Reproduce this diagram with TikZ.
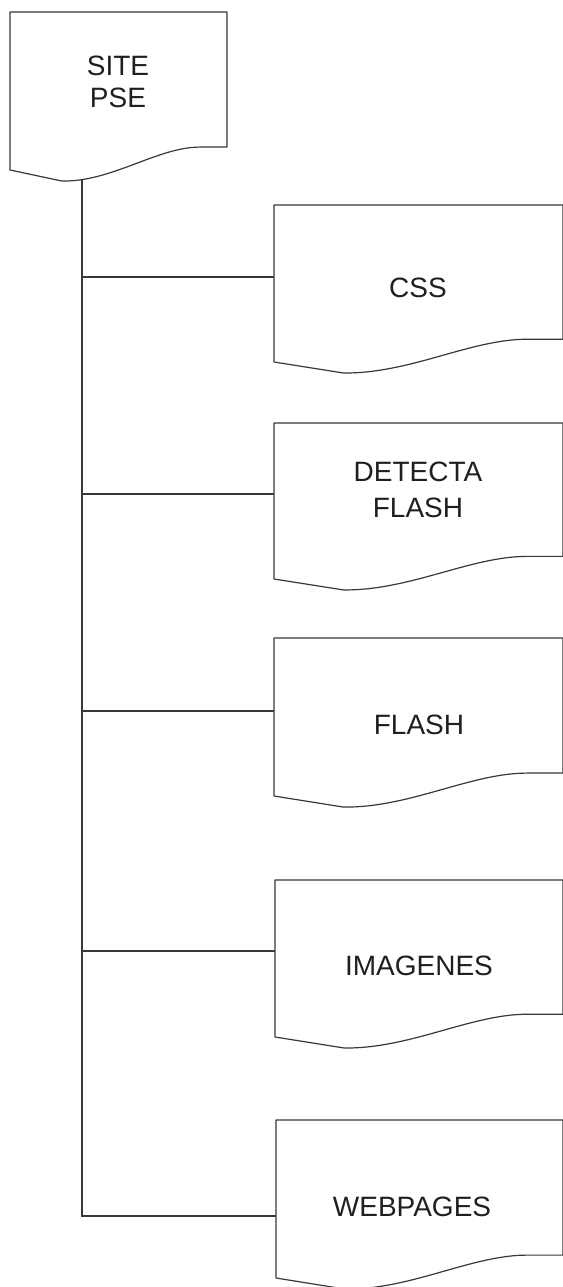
\documentclass[tikz,border=0pt]{standalone}
\usepackage{fontspec}
\setmainfont{Liberation Sans}
\begin{document}
\begin{tikzpicture}[x=1pt,y=-1pt,
  docline/.style={draw=black!78,line width=1.2pt,line join=round},
  conn/.style={draw=black!78,line width=1.2pt},
  lbl/.style={text=black!88,font=\fontsize{28}{32}\selectfont,align=center,inner sep=0pt}]
\newcommand\DocBox[4]{%
  \path[docline] (#1,#2) -- ({#1+#3},#2) -- ({#1+#3},{#2+0.855*#4})
    -- ({#1+0.875*#3},{#2+0.855*#4})
    .. controls ({#1+0.68*#3},{#2+0.855*#4}) and ({#1+0.47*#3},{#2+1.075*#4}) ..
    ({#1+0.24*#3},{#2+1.07*#4}) -- (#1,{#2+#4}) -- cycle;}
\useasboundingbox (0,0) rectangle (562,1287);
\DocBox{10}{12}{217}{158}
\DocBox{274}{205}{289}{157}
\DocBox{274}{423}{289}{156}
\DocBox{274}{638}{289}{158}
\DocBox{275}{880}{288}{157}
\DocBox{276}{1120}{287}{158}
\node[lbl] (site) at (118,82) {SITE\\PSE};
\node[lbl] (css) at (418,288) {CSS};
\node[lbl,font=\fontsize{28}{36}\selectfont] (detecta) at (418,490) {DETECTA\\FLASH};
\node[lbl] (flash) at (419,725) {FLASH};
\node[lbl] (imagenes) at (419,966) {IMAGENES};
\node[lbl] (webpages) at (412,1207) {WEBPAGES};
\coordinate (siteB) at (82,180);
\coordinate (cssL) at (274,277);
\coordinate (detectaL) at (274,494);
\coordinate (flashL) at (274,711);
\coordinate (imagenesL) at (275,951);
\coordinate (webpagesL) at (276,1216);
\draw[conn] (siteB) |- (webpagesL);
\draw[conn] (siteB |- cssL) -- (cssL);
\draw[conn] (siteB |- detectaL) -- (detectaL);
\draw[conn] (siteB |- flashL) -- (flashL);
\draw[conn] (siteB |- imagenesL) -- (imagenesL);
\end{tikzpicture}
\end{document}
